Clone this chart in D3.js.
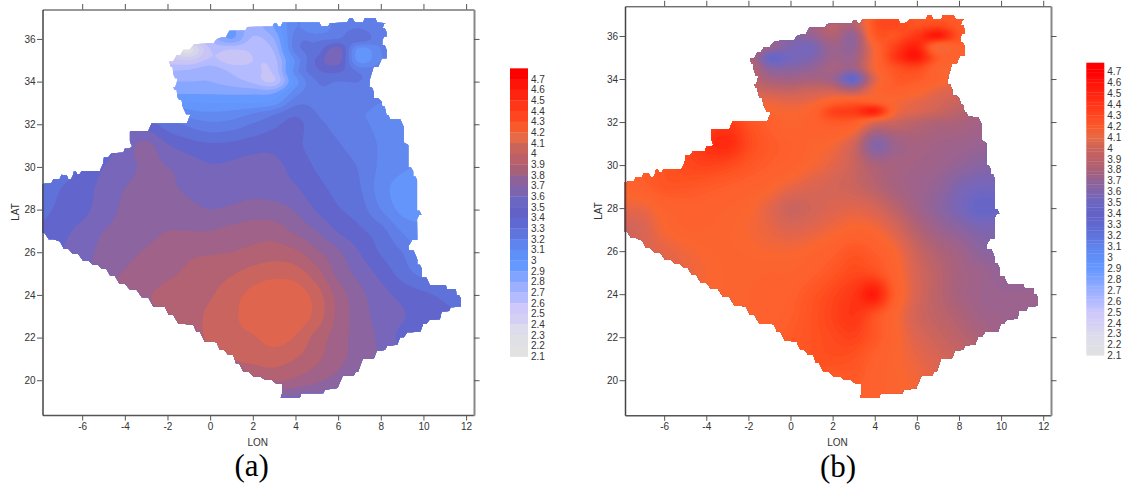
<!DOCTYPE html>
<html>
<head>
<meta charset="utf-8">
<script src="https://cdn.jsdelivr.net/npm/d3@7/dist/d3.min.js"></script>
<style>
body { margin: 0; background: white; }
text { font-family: "Liberation Sans", Arial, sans-serif; fill: #333; }
</style>
</head>
<body>
<script>
const SVG_WIDTH = 1126;
const SVG_HEIGHT = 490;

const lonTicks = [-6, -4, -2, 0, 2, 4, 6, 8, 10, 12];
const latTicks = [20, 22, 24, 26, 28, 30, 32, 34, 36];

const legendValues = [4.7, 4.6, 4.5, 4.4, 4.3, 4.2, 4.1, 4, 3.9, 3.8, 3.7, 3.6, 3.5, 3.4, 3.3, 3.2, 3.1, 3, 2.9, 2.8, 2.7, 2.6, 2.5, 2.4, 2.3, 2.2, 2.1];
const legendColours = ["#ff0000", "#ff1408", "#ff2410", "#ff3618", "#ff4620", "#f95a2c", "#e66a48", "#c9645a", "#bb6068", "#a86077", "#8e6298", "#7d64ad", "#6a66c4", "#6461c6", "#6068d2", "#5f74dc", "#5f84ee", "#5f90f8", "#6699ff", "#80a4ff", "#9cb0ff", "#b4bcff", "#cfc8fa", "#d4d0f4", "#dcdcec", "#dfdfe6", "#e2e2e2"];

// colour of a map band, by the lower value of the band
const mapLevels = [2.1, 2.2, 2.5, 2.6, 2.7, 2.8, 2.9, 3.0, 3.1, 3.2, 3.3, 3.4, 3.5, 3.6, 3.7, 3.8, 3.9, 4.0, 4.1, 4.2, 4.3, 4.4, 4.5, 4.6, 4.7];
const mapColours = ["#e1e1e1", "#dedee4", "#c8c4f5", "#b4bcff", "#9fb0ff", "#86a6ff", "#6699ff", "#6495fb", "#6189f0", "#607ee6", "#5f72da", "#6266cc", "#7766b9", "#8c649f", "#a06288", "#b26272", "#c9645f", "#e0654f", "#fb6630", "#ff5f2c", "#ff5020", "#ff3c18", "#ff2a10", "#ff1408", "#ff0000"];

const gridLons = [-8, -7, -6, -5, -4, -3, -2, -1, 0, 1, 2, 3, 4, 5, 6, 7, 8, 9, 10, 11, 12];
const gridLats = [37, 36.5, 36, 35.5, 35, 34.5, 34, 33.5, 33, 32.5, 32, 31, 30, 29, 28, 27, 26, 25, 24, 23, 22, 21, 20, 19];

const valuesA = [
[2.6,2.6,2.6,2.6,2.6,2.6,2.5,2.6,2.8,2.92,2.78,2.92,3.2,3.15,3.25,3.3,3.22,3.2,3.2,3.2,3.2],
[2.6,2.6,2.6,2.6,2.6,2.6,2.5,2.6,2.8,2.92,2.75,2.9,3.2,3.12,3.25,3.3,3.22,3.2,3.2,3.2,3.2],
[2.5,2.5,2.5,2.5,2.5,2.5,2.5,2.55,2.72,2.9,2.68,2.8,3.25,3.28,3.3,3.38,3.22,3.2,3.2,3.2,3.2],
[2.45,2.45,2.45,2.45,2.45,2.45,2.45,2.25,2.6,2.6,2.62,2.72,3.25,3.33,3.55,3.05,3.2,3.2,3.2,3.2,3.2],
[2.55,2.55,2.55,2.55,2.55,2.55,2.55,2.5,2.62,2.56,2.6,2.66,3.12,3.42,3.55,3.05,3.2,3.2,3.2,3.2,3.2],
[2.7,2.7,2.7,2.7,2.7,2.7,2.7,2.72,2.78,2.68,2.63,2.63,3.15,3.38,3.42,3.28,3.25,3.25,3.25,3.25,3.25],
[2.8,2.8,2.8,2.8,2.8,2.8,2.8,2.8,2.8,2.75,2.68,2.6,3.05,3.3,3.3,3.3,3.28,3.25,3.25,3.25,3.25],
[2.88,2.88,2.88,2.88,2.88,2.88,2.88,2.88,2.88,2.87,2.87,2.88,3.15,3.28,3.28,3.28,3.25,3.2,3.2,3.2,3.2],
[3.05,3.05,3.05,3.05,3.05,3.05,3.05,3.02,3.0,3.0,3.0,3.05,3.27,3.28,3.26,3.24,3.2,3.2,3.2,3.2,3.2],
[3.3,3.3,3.3,3.3,3.3,3.3,3.25,3.15,3.12,3.14,3.2,3.28,3.38,3.3,3.25,3.21,3.18,3.15,3.15,3.15,3.15],
[3.5,3.5,3.5,3.5,3.5,3.45,3.35,3.28,3.23,3.25,3.31,3.38,3.43,3.33,3.27,3.22,3.18,3.14,3.12,3.12,3.12],
[3.35,3.4,3.42,3.45,3.55,3.63,3.51,3.45,3.42,3.43,3.46,3.47,3.42,3.36,3.31,3.25,3.19,3.14,3.1,3.1,3.1],
[3.25,3.33,3.42,3.5,3.56,3.62,3.6,3.55,3.51,3.52,3.54,3.53,3.46,3.39,3.35,3.29,3.18,3.12,3.08,3.05,3.05],
[3.3,3.4,3.46,3.53,3.6,3.63,3.62,3.58,3.55,3.55,3.56,3.55,3.51,3.43,3.37,3.31,3.15,3.05,3.03,3.03,3.03],
[3.36,3.43,3.47,3.55,3.62,3.65,3.65,3.63,3.6,3.62,3.65,3.64,3.59,3.49,3.41,3.35,3.2,3.07,3.05,3.05,3.05],
[3.41,3.47,3.53,3.6,3.63,3.67,3.7,3.7,3.7,3.73,3.75,3.75,3.68,3.6,3.49,3.42,3.34,3.19,3.12,3.1,3.1],
[3.35,3.5,3.56,3.63,3.67,3.71,3.74,3.78,3.79,3.8,3.83,3.85,3.82,3.72,3.62,3.5,3.39,3.3,3.15,3.2,3.2],
[3.6,3.6,3.6,3.65,3.71,3.75,3.78,3.82,3.85,3.89,3.94,3.97,3.95,3.84,3.67,3.57,3.47,3.36,3.27,3.3,3.3],
[3.75,3.75,3.75,3.75,3.77,3.79,3.83,3.86,3.89,3.96,4.03,4.08,4.06,3.95,3.76,3.63,3.54,3.47,3.42,3.38,3.35],
[3.78,3.78,3.78,3.78,3.78,3.79,3.8,3.86,3.92,3.98,4.04,4.09,4.07,3.96,3.77,3.65,3.56,3.51,3.45,3.42,3.4],
[3.8,3.8,3.8,3.8,3.8,3.8,3.82,3.85,3.92,3.97,3.99,4.04,3.99,3.86,3.75,3.65,3.58,3.47,3.42,3.4,3.4],
[3.8,3.8,3.8,3.8,3.8,3.82,3.85,3.86,3.88,3.9,3.92,3.94,3.9,3.82,3.73,3.65,3.58,3.5,3.45,3.42,3.4],
[3.8,3.8,3.8,3.8,3.8,3.82,3.85,3.85,3.85,3.85,3.82,3.82,3.78,3.72,3.66,3.58,3.5,3.45,3.42,3.4,3.4],
[3.7,3.7,3.7,3.7,3.7,3.7,3.7,3.7,3.7,3.65,3.6,3.55,3.55,3.55,3.5,3.45,3.42,3.4,3.4,3.4,3.4]
];

const valuesB = [
[3.6,3.6,3.6,3.6,3.6,3.6,3.7,3.75,3.75,3.8,3.85,3.8,4.3,4.35,4.3,4.25,4.25,4.2,4.2,4.2,4.2],
[3.8,3.8,3.8,3.8,3.8,3.8,3.8,3.75,3.7,3.75,3.85,3.8,4.3,4.35,4.3,4.35,4.25,4.2,4.2,4.2,4.2],
[3.8,3.8,3.8,3.8,3.8,3.8,3.8,3.7,3.6,3.65,3.8,3.65,4.25,4.3,4.45,4.6,4.3,4.2,4.2,4.2,4.2],
[3.9,3.9,3.9,3.9,3.9,3.9,3.85,3.7,3.55,3.52,3.7,3.65,4.12,4.4,4.55,4.1,4.2,4.2,4.2,4.2,4.2],
[3.9,3.9,3.9,3.9,3.9,3.9,3.85,3.45,3.5,3.55,3.7,3.7,4.1,4.45,4.6,4.25,4.15,4.1,4.1,4.1,4.1],
[3.9,3.9,3.9,3.9,3.9,3.9,3.9,3.6,3.6,3.65,3.75,3.7,4.1,4.3,4.35,4.15,4.1,4.05,4.05,4.05,4.05],
[3.95,3.95,3.95,3.95,3.95,3.95,3.9,3.75,3.72,3.75,3.7,3.42,4.0,4.25,4.25,4.15,4.05,4.0,4.0,4.0,4.0],
[4.0,4.0,4.0,4.0,4.0,4.0,3.95,3.9,3.88,3.92,3.92,3.8,4.1,4.2,4.15,4.05,4.0,3.95,3.95,3.95,3.95],
[4.1,4.1,4.1,4.1,4.1,4.1,4.05,4.05,4.02,4.05,4.15,4.2,4.15,4.1,4.05,3.98,3.92,3.88,3.88,3.88,3.88],
[4.3,4.3,4.3,4.3,4.3,4.3,4.2,4.12,4.1,4.15,4.38,4.42,4.55,4.1,4.0,3.93,3.85,3.8,3.8,3.8,3.8],
[4.3,4.3,4.3,4.3,4.35,4.42,4.3,4.2,4.13,4.18,4.25,4.22,4.0,3.92,3.85,3.8,3.78,3.73,3.72,3.72,3.72],
[4.3,4.3,4.3,4.35,4.47,4.52,4.35,4.25,4.2,4.14,4.1,3.95,3.58,3.7,3.75,3.72,3.7,3.68,3.68,3.68,3.68],
[4.2,4.25,4.3,4.35,4.38,4.35,4.28,4.22,4.17,4.1,4.03,3.92,3.78,3.75,3.72,3.7,3.65,3.6,3.6,3.6,3.6],
[4.15,4.2,4.28,4.28,4.25,4.22,4.18,4.13,4.05,4.0,3.96,3.92,3.84,3.75,3.7,3.65,3.55,3.5,3.5,3.5,3.5],
[4.05,4.06,4.15,4.18,4.18,4.15,4.12,4.03,3.92,3.95,4.0,4.02,3.97,3.85,3.72,3.62,3.52,3.43,3.45,3.45,3.45],
[3.93,3.98,4.1,4.15,4.15,4.13,4.1,4.05,4.0,4.03,4.08,4.13,4.1,3.98,3.82,3.7,3.62,3.55,3.55,3.55,3.55],
[3.95,4.0,4.03,4.08,4.12,4.13,4.12,4.1,4.1,4.13,4.2,4.28,4.22,4.1,3.92,3.8,3.72,3.62,3.6,3.6,3.6],
[4.0,4.0,4.02,4.05,4.1,4.13,4.14,4.15,4.15,4.2,4.28,4.35,4.32,4.15,3.97,3.85,3.75,3.7,3.65,3.65,3.65],
[4.1,4.1,4.1,4.1,4.12,4.13,4.15,4.18,4.2,4.28,4.36,4.45,4.58,4.2,3.98,3.85,3.75,3.7,3.68,3.68,3.68],
[4.15,4.15,4.15,4.15,4.15,4.15,4.16,4.18,4.22,4.3,4.38,4.45,4.3,4.12,3.95,3.87,3.8,3.72,3.7,3.7,3.7],
[4.2,4.2,4.2,4.2,4.2,4.2,4.2,4.2,4.25,4.3,4.35,4.38,4.27,4.13,4.0,3.92,3.85,3.78,3.72,3.72,3.72],
[4.2,4.2,4.2,4.2,4.2,4.2,4.2,4.22,4.25,4.3,4.32,4.3,4.2,4.12,4.05,3.98,3.92,3.85,3.8,3.8,3.8],
[4.2,4.2,4.2,4.2,4.2,4.2,4.2,4.22,4.25,4.28,4.25,4.25,4.18,4.13,4.08,4.03,3.98,3.9,3.85,3.85,3.85],
[4.2,4.2,4.2,4.2,4.2,4.2,4.2,4.2,4.2,4.2,4.2,4.2,4.17,4.13,4.1,4.05,4.0,3.95,3.9,3.9,3.9]
];

const borderLon = [-7.87,-7.56,-7.35,-7.17,-6.97,-6.8,-6.65,-6.45,-6.39,-6.23,-6.03,-5.37,-5.01,-4.98,-4.62,-4.15,-4.0,-3.6,-3.76,-3.76,-3.1,-2.75,-1.29,-0.92,-1.29,-1.34,-1.53,-1.57,-1.73,-1.57,-1.53,-1.73,-1.76,-1.92,-1.57,-1.26,-0.75,0,0.3,0.54,0.9,1.55,1.74,2.83,3,3.2,3.4,4.99,5.22,5.54,5.61,6.32,6.52,6.79,7.07,7.25,7.65,7.83,8.27,8.08,8.27,8.27,8.07,8.07,8.27,8.27,7.88,7.49,7.46,7.68,7.68,8.04,8.07,8.27,8.43,8.71,9.08,9.08,9.29,9.29,9.52,9.52,9.7,9.7,9.91,9.7,9.71,9.29,9.33,9.71,9.71,9.93,9.93,10.3,10.96,11.11,11.52,11.55,11.75,11.75,11.36,11.2,10.96,10.77,10.46,10.14,9.86,9.44,9.08,8.77,8.46,8.19,7.99,7.68,7.41,6.94,6.74,6.52,5.97,5.38,5.3,4.36,4.21,3.22,3.38,3.38,2.88,2.33,1.79,1.36,1.08,0.65,0.3,0,-0.48,-0.79,-1.18,-1.73,-2.12,-2.39,-2.9,-3.45,-4.0,-4.46,-4.86,-5.25,-5.71,-6.18,-6.65,-7.04,-7.35,-7.75,-7.87];
const borderLat = [29.2,29.24,29.42,29.42,29.63,29.6,29.42,29.55,29.78,29.66,29.8,29.81,30.17,30.44,30.64,30.66,30.85,31.02,31.22,31.66,31.67,32.03,32.05,32.47,32.83,33.14,33.27,33.61,33.74,33.92,34.16,34.36,34.7,34.94,35.25,35.49,35.75,35.8,35.99,36.08,36.38,36.39,36.56,36.58,36.74,36.58,36.77,36.77,36.58,36.61,36.74,36.77,36.97,36.77,36.77,36.97,36.97,36.77,36.74,36.5,36.31,36.11,35.95,35.72,35.49,35.1,34.7,34.11,33.74,33.49,33.22,33.06,32.83,32.44,32.25,32.24,31.86,31.14,31.03,29.97,29.78,29.55,29.39,27.95,27.75,27.56,26.58,26.27,26.08,25.67,25.41,25.21,24.83,24.47,24.47,24.27,24.27,24.0,23.85,23.46,23.42,23.25,23.22,22.86,22.83,22.64,22.28,22.25,22.02,21.66,21.63,21.42,21.39,21.03,20.99,20.41,20.22,20.21,19.63,19.55,19.39,19.39,19.19,19.19,19.39,19.83,20.02,20.18,20.41,20.8,21.19,21.43,21.78,21.82,22.28,22.6,22.64,23.07,23.43,23.46,23.89,24.24,24.52,24.89,25.22,25.41,25.61,25.92,26.16,26.5,26.61,26.89,26.92];

const svg = d3.select("body").append("svg")
    .attr("width", SVG_WIDTH)
    .attr("height", SVG_HEIGHT);

const mapColour = d3.scaleLinear().domain(mapLevels).range(mapColours);
const legendColour = d3.scaleLinear().domain([...legendValues].reverse()).range([...legendColours].reverse());

function catmull(p0, p1, p2, p3, t) {
    return 0.5 * (2 * p1 + (p2 - p0) * t + (2 * p0 - 5 * p1 + 4 * p2 - p3) * t * t + (3 * p1 - p0 - 3 * p2 + p3) * t * t * t);
}

// smoother surface for the contour lines, between the values
function refine(rows, k) {
    const ny = rows.length, nx = rows[0].length;
    const w = (nx - 1) * k + 1, h = (ny - 1) * k + 1;
    const out = new Array(w * h);
    const at = (r, c) => rows[Math.max(0, Math.min(ny - 1, r))][Math.max(0, Math.min(nx - 1, c))];
    for (let j = 0; j < h; j++) {
        const r = Math.floor(j / k), v = j / k - r;
        for (let i = 0; i < w; i++) {
            const c = Math.floor(i / k), u = i / k - c;
            const col = [-1, 0, 1, 2].map(d => catmull(at(r + d, c - 1), at(r + d, c), at(r + d, c + 1), at(r + d, c + 2), u));
            out[j * w + i] = catmull(col[0], col[1], col[2], col[3], v);
        }
    }
    return { values: out, w, h };
}

// the blanked edge of the map is stepped, so slanted runs get a small stair
function stepped(points) {
    const out = [];
    points.forEach((p, i) => {
        out.push(p);
        const q = points[i + 1];
        if (q && Math.abs(q[0] - p[0]) > 0.12 && Math.abs(q[1] - p[1]) > 0.12) {
            out.push([p[0] + (q[0] - p[0]) * 0.55, p[1]]);
        }
    });
    return out;
}

function drawMap(target, panel, values, levels, clipId) {
    const x = d3.scaleLinear().domain([-7.86, 12.37]).range([panel.left, panel.right]);
    const y = d3.scaleLinear().domain([18.37, 37.38]).range([panel.bottom, panel.top]);

    const outline = d3.line().x(d => x(d[0])).y(d => y(d[1]));
    target.append("clipPath").attr("id", clipId)
        .append("path")
        .attr("d", outline(stepped(d3.zip(borderLon, borderLat))) + "Z");

    const k = 6;
    const fine = refine(values, k);
    const lonAt = d3.scaleLinear().domain(gridLons.map((d, i) => i * k)).range(gridLons);
    const latAt = d3.scaleLinear().domain(gridLats.map((d, i) => i * k)).range(gridLats);

    const project = d3.geoTransform({
        point(px, py) {
            this.stream.point(x(lonAt(px - 0.5)), y(latAt(py - 0.5)));
        }
    });
    const path = d3.geoPath(project);

    const bands = d3.contours().size([fine.w, fine.h]).thresholds(levels)(fine.values);

    target.append("g")
        .attr("clip-path", `url(#${clipId})`)
        .selectAll("path")
        .data(bands)
        .join("path")
        .attr("d", path)
        .attr("fill", d => mapColour(d.value));

    drawAxes(target, panel, x, y);
}

function drawAxes(target, panel, x, y) {
    const tick = 5.5;
    const plain = d => String(d);
    const bottom = target.append("g").attr("transform", `translate(0,${panel.bottom})`)
        .call(d3.axisBottom(x).tickValues(lonTicks).tickFormat(plain).tickSize(tick).tickPadding(2).tickSizeOuter(0));
    const left = target.append("g").attr("transform", `translate(${panel.left},0)`)
        .call(d3.axisLeft(y).tickValues(latTicks).tickFormat(plain).tickSize(tick).tickPadding(1.5).tickSizeOuter(0));
    const top = target.append("g").attr("transform", `translate(0,${panel.top})`)
        .call(d3.axisTop(x).tickValues(lonTicks).tickFormat("").tickSize(tick).tickSizeOuter(0));
    const right = target.append("g").attr("transform", `translate(${panel.right},0)`)
        .call(d3.axisRight(y).tickValues(latTicks).tickFormat("").tickSize(tick).tickSizeOuter(0));

    [[bottom, "#555", 1.5], [left, "#444", 1.5], [top, "#333", 1], [right, "#888", 2]].forEach(([axis, colour, width]) => {
        axis.select(".domain").attr("stroke", colour).attr("stroke-width", width);
        axis.selectAll(".tick line").attr("stroke", "#555");
        axis.selectAll("text").style("font-size", "10px").attr("fill", "#333");
        axis.attr("font-family", null);
    });

    target.append("text").attr("x", panel.lonX).attr("y", 446.3)
        .attr("text-anchor", "middle").style("font-size", "10px").text("LON");
    target.append("text")
        .attr("transform", `translate(${panel.latX},${panel.latY}) rotate(-90)`)
        .attr("text-anchor", "middle").style("font-size", "10px").text("LAT");
    target.append("text").attr("x", panel.tagX).attr("y", panel.tagY)
        .attr("text-anchor", "middle")
        .style("font-family", "'Liberation Serif', serif").style("font-size", "31px").style("fill", "#000")
        .text(panel.tag);
}

function drawLegendA(target, lg) {
    const y = d3.scaleLinear().domain([2.1, 4.7]).range([lg.labelBottom, lg.labelTop]);
    const h = y(2.1) - y(2.2);
    target.selectAll(".bandA").data(legendValues).join("rect")
        .attr("class", "bandA")
        .attr("x", lg.x).attr("width", lg.width)
        .attr("y", d => y(d) - h).attr("height", h + 0.3)
        .attr("fill", (d, i) => legendColours[i]);
    drawLegendLabels(target, lg, y);
}

function drawLegendB(target, lg) {
    const y = d3.scaleLinear().domain([2.1, 4.74]).range([lg.bottom, lg.top]);
    const levels = d3.range(2.1, 4.74, 0.03);
    target.selectAll(".bandB").data(levels).join("rect")
        .attr("class", "bandB")
        .attr("x", lg.x).attr("width", lg.width)
        .attr("y", d => y(d + 0.03)).attr("height", d => y(d) - y(d + 0.03) + 0.3)
        .attr("fill", d => legendColour(Math.min(4.7, d + 0.03)));
    drawLegendLabels(target, lg, d3.scaleLinear().domain([2.1, 4.7]).range([lg.labelBottom, lg.labelTop]));
}

function drawLegendLabels(target, lg, y) {
    target.append("g").selectAll("text").data(legendValues).join("text")
        .attr("x", lg.x + lg.width + 3)
        .attr("y", d => y(d))
        .attr("dy", "0.36em")
        .style("font-size", "10px")
        .text(d => d);
}

const panelA = { left: 42.5, right: 474, top: 9.5, bottom: 415, lonX: 257.7, latX: 18.5, latY: 212, tag: "(a)", tagX: 251.7, tagY: 476 };
const panelB = { left: 625, right: 1051, top: 6.3, bottom: 415.3, lonX: 837.5, latX: 601.5, latY: 211, tag: "(b)", tagX: 838, tagY: 477 };

drawMap(svg, panelA, valuesA, d3.range(20, 48).map(d => d / 10), "clipA");
drawMap(svg, panelB, valuesB, d3.range(80, 190).map(d => d / 40), "clipB");

drawLegendA(svg.append("g"), { x: 510, width: 18, labelTop: 79, labelBottom: 356.5 });
drawLegendB(svg.append("g"), { x: 1086.3, width: 18, top: 66, bottom: 355.3, labelTop: 71.5, labelBottom: 355.7 });
</script>
</body>
</html>
